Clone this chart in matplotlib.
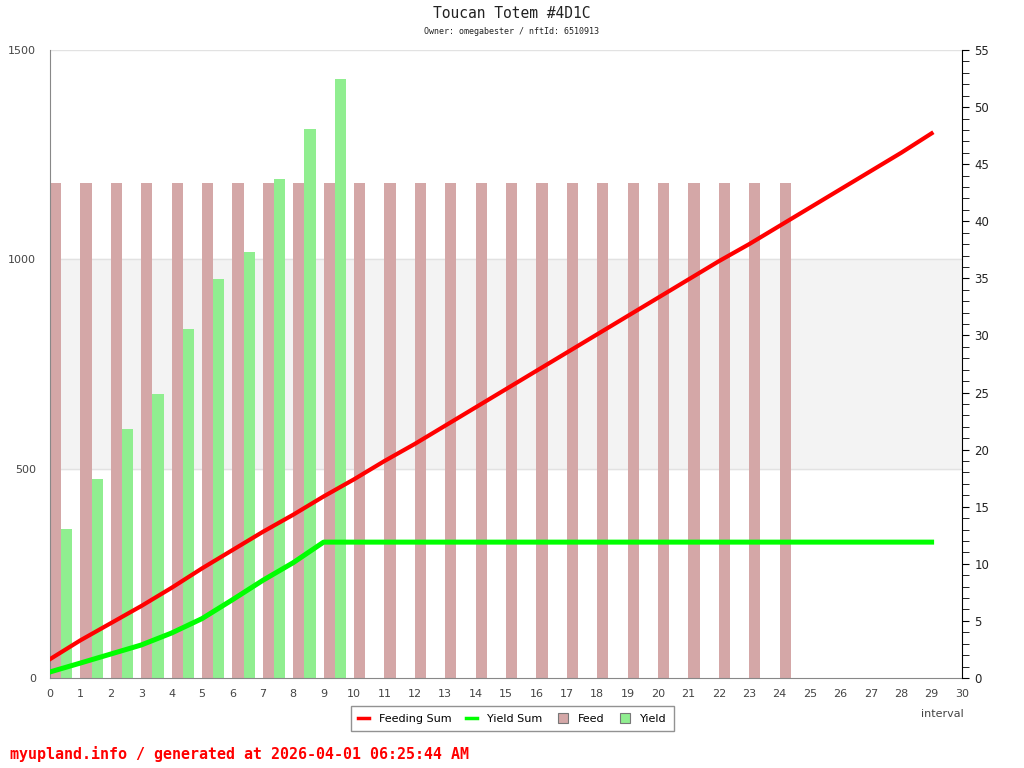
import matplotlib
matplotlib.use("Agg")
import matplotlib.pyplot as plt
from matplotlib.lines import Line2D

# intervals and values
intervals = list(range(30))
feed_x = list(range(25))
feed = [1182] * 25
yield_x = list(range(10))
yields = [356, 475, 595, 678, 834, 953, 1017, 1192, 1311, 1431]
feeding_sum = [1.65, 3.3, 4.8, 6.3, 7.9, 9.6, 11.2, 12.8, 14.3, 15.9,
               17.4, 19.0, 20.5, 22.1, 23.7, 25.3, 26.9, 28.5, 30.1, 31.7,
               33.3, 34.9, 36.5, 38.0, 39.6, 41.2, 42.8, 44.4, 46.0, 47.7]
yield_sum = [0.53, 1.31, 2.1, 2.89, 3.94, 5.2, 6.85, 8.55, 10.1, 11.9,
             11.9, 11.9, 11.9, 11.9, 11.9, 11.9, 11.9, 11.9, 11.9, 11.9,
             11.9, 11.9, 11.9, 11.9, 11.9, 11.9, 11.9, 11.9, 11.9, 11.9]

feed_col = "#d4a7a7"
yield_col = "#90ee90"
grey = "#444444"

fig = plt.figure(figsize=(10.24, 7.68), dpi=100)
ax = fig.add_axes([50/1024, 90/768, 912/1024, 628/768])
ax2 = ax.twinx()

ax.axhspan(500, 1000, color="#f3f3f3", zorder=0)
for g in [500, 1000, 1500]:
    ax.axhline(g, color="#e2e2e2", lw=1, zorder=0.5)

ax.bar(feed_x, feed, width=0.37, align="edge", color=feed_col, zorder=2)
ax.bar([x + 0.37 for x in yield_x], yields, width=0.37, align="edge",
       color=yield_col, zorder=2)

ax2.plot(intervals, feeding_sum, color="#ff0000", lw=3)
ax2.plot(intervals, yield_sum, color="#00ff00", lw=3.6)

ax.set_xlim(0, 30)
ax.set_ylim(0, 1500)
ax2.set_ylim(0, 55)
ax.set_xticks(range(31))
ax.set_yticks([0, 500, 1000, 1500])
ax.tick_params(axis="both", length=0, labelsize=8, labelcolor=grey, pad=8)
ax.tick_params(axis="y", pad=10)
ax2.set_yticks(range(0, 56, 5))
ax2.set_yticks(range(0, 56), minor=True)
ax2.tick_params(axis="y", which="major", length=5, labelsize=8.5, pad=4,
                labelcolor="#222222")
ax2.tick_params(axis="y", which="minor", length=5)

for s in ["top"]:
    ax.spines[s].set_visible(False)
    ax2.spines[s].set_visible(False)
ax.spines["left"].set_color("#888888")
ax.spines["bottom"].set_color("#888888")
ax2.spines["left"].set_visible(False)
ax2.spines["bottom"].set_visible(False)
ax2.spines["right"].set_color("black")
ax.spines["right"].set_visible(False)

fig.text(0.5, 1 - 14/768, "Toucan Totem #4D1C", ha="center", va="center",
         family="DejaVu Sans Mono", fontsize=10.5, color="#222222")
fig.text(0.5, 1 - 31/768, "Owner: omegabester / nftId: 6510913", ha="center",
         va="center", family="DejaVu Sans Mono", fontsize=6, color="#222222")
fig.text(942/1024, 1 - 714/768, "interval", ha="center", va="center",
         fontsize=8, color=grey)
fig.text(10/1024, 1 - 754/768, "myupland.info / generated at 2026-04-01 06:25:44 AM",
         ha="left", va="center", family="DejaVu Sans Mono", fontweight="bold",
         fontsize=10.8, color="#ff0000")

handles = [
    Line2D([], [], color="#ff0000", lw=2.5),
    Line2D([], [], color="#00ff00", lw=2.5),
    Line2D([], [], marker="s", ls="none", markersize=7, markerfacecolor=feed_col,
           markeredgecolor="#777777", markeredgewidth=0.8),
    Line2D([], [], marker="s", ls="none", markersize=7, markerfacecolor=yield_col,
           markeredgecolor="#777777", markeredgewidth=0.8),
]
leg = fig.legend(handles, ["Feeding Sum", "Yield Sum", "Feed", "Yield"],
                 loc="center", bbox_to_anchor=(512.5/1024, 1 - 718.5/768), ncol=4,
                 fontsize=8, handlelength=1.0, handletextpad=0.9, columnspacing=1.3,
                 frameon=True, fancybox=False, borderpad=0.65)
leg.get_frame().set_edgecolor("#777777")
leg.get_frame().set_linewidth(1)

fig.savefig("out.png", dpi=100)
